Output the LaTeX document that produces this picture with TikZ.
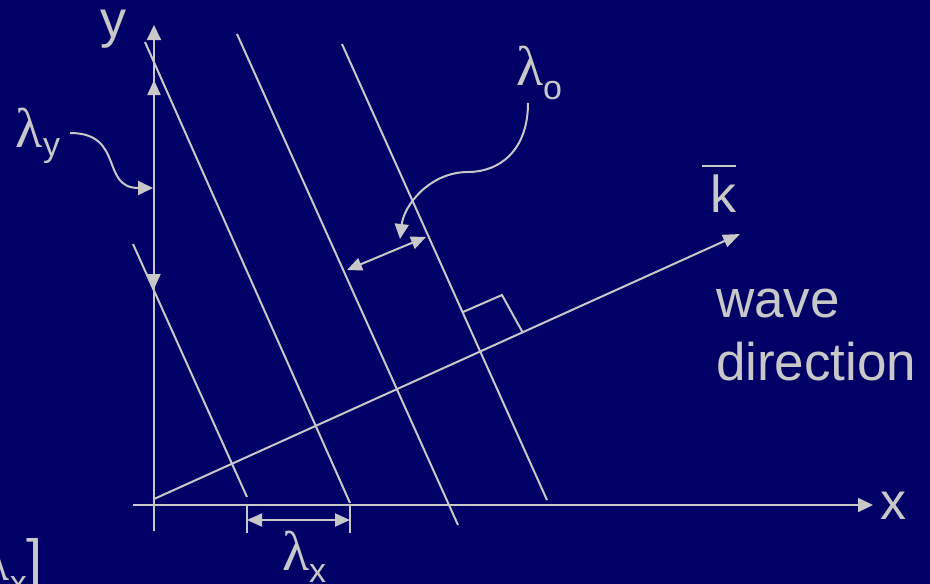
\documentclass[tikz,border=0pt]{standalone}
\usepackage{fontspec}
\setmainfont{Liberation Sans}
\newfontfamily\lamfont{Liberation Serif}
\usetikzlibrary{arrows.meta}
\definecolor{bg}{RGB}{0,0,102}
\definecolor{fg}{RGB}{200,200,200}
\newcommand{\myBig}{\fontsize{52}{60}\selectfont}
\newcommand{\myWave}{\fontsize{53}{60}\selectfont}
\newcommand{\mySub}{\fontsize{34}{40}\selectfont}
\newcommand{\myLam}{{\lamfont\fontsize{56}{60}\selectfont λ}}
\begin{document}
\begin{tikzpicture}[x=1pt,y=-1pt,
  ln/.style={draw=fg,line width=2pt},
  tip/.style={-{Triangle[length=15pt,width=14pt]}},
  dtip/.style={{Triangle[length=15pt,width=13pt]}-{Triangle[length=15pt,width=13pt]}},
  lbl/.style={text=fg,inner sep=0pt,outer sep=0pt,anchor=base west}]
\fill[bg] (0,0) rectangle (930,584);
\useasboundingbox (0,0) rectangle (930,584);
\begin{scope}
\clip (0,0) rectangle (930,584);
% coordinates
\coordinate (xa0) at (133,505);
\coordinate (xa1) at (873,505);
\coordinate (ya0) at (154,531);
\coordinate (ya1) at (154,25);
\coordinate (ly1) at (154,80);
\coordinate (ly2) at (154,289);
\coordinate (wa0) at (133,244);
\coordinate (wa1) at (247,497);
\coordinate (wb0) at (145,42);
\coordinate (wb1) at (350,503);
\coordinate (wc0) at (237,34);
\coordinate (wc1) at (458,525);
\coordinate (wd0) at (342,44);
\coordinate (wd1) at (547,500);
\coordinate (lo1) at (347,270);
\coordinate (lo2) at (426,237);
\coordinate (k0) at (154,499);
\coordinate (k1) at (740,234);
\coordinate (ra1) at (463,312);
\coordinate (ra2) at (502,295);
\coordinate (ra3) at (523,333);
\coordinate (tx1a) at (247,505);
\coordinate (tx1b) at (247,533);
\coordinate (tx2a) at (350,505);
\coordinate (tx2b) at (350,533);
\coordinate (lx1) at (247,520);
\coordinate (lx2) at (350,520);
\coordinate (cy0) at (70,133);
\coordinate (cy1) at (153,188);
\coordinate (co0) at (528,103);
\coordinate (com) at (468,172);
\coordinate (co1) at (400,239);
% axes
\draw[ln,tip] (xa0) -- (xa1);
\draw[ln,tip] (ya0) -- (ya1);
% wave fronts
\draw[ln] (wa0) -- (wa1);
\draw[ln] (wb0) -- (wb1);
\draw[ln] (wc0) -- (wc1);
\draw[ln] (wd0) -- (wd1);
% wave vector
\draw[ln,-{Triangle[length=17pt,width=13pt]}] (k0) -- (k1);
% right angle
\draw[ln] (ra1) -- (ra2) -- (ra3);
% lambda_y
\draw[ln,dtip] (ly1) -- (ly2);
\draw[ln,tip] (cy0) .. controls (125,133) and (100,188) .. (cy1);
% lambda_o
\draw[ln,dtip] (lo1) -- (lo2);
\draw[ln,tip] (co0) .. controls (528,150) and (500,172) .. (com)
  .. controls (430,172) and (404,205) .. (co1);
% lambda_x
\draw[ln] (tx1a) -- (tx1b);
\draw[ln] (tx2a) -- (tx2b);
\draw[ln,dtip] (lx1) -- (lx2);
% labels
\node[lbl] (ylab) at (100,37) {\myBig y};
\node[lbl] (xlab) at (880,519) {\myBig x};
\node[lbl] (klab) at (710,212) {\myBig\makebox[0pt][l]{\kern-8pt\rule[45pt]{34pt}{2pt}}k};
\node[lbl] (wave) at (716,317) {\myWave wave};
\node[lbl] (dir) at (716,380) {\myWave direction};
\node[lbl] (lylab) at (16,147) {\myLam\raisebox{-9pt}{\mySub y}};
\node[lbl] (lolab) at (516,85) {\myLam\raisebox{-14pt}{\mySub o}};
\node[lbl] (lxlab) at (282,570) {\myLam\raisebox{-12pt}{\mySub x}};
\node[lbl,anchor=base east] (frag) at (43,580) {\myLam\raisebox{-14pt}{\mySub x}{\fontsize{58}{60}\selectfont]}};
\end{scope}
\end{tikzpicture}
\end{document}
